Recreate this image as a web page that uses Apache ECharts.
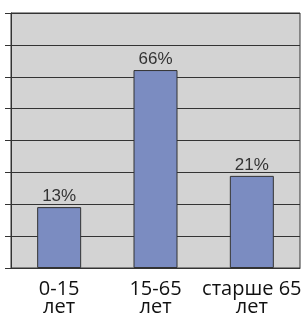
<!DOCTYPE html>
<html>
<head>
<meta charset="utf-8">
<script src="https://cdn.jsdelivr.net/npm/echarts@6/dist/echarts.min.js"></script>
<style>
  html, body { margin: 0; padding: 0; background: #fff; }
  #chart { width: 307px; height: 318px; }
</style>
</head>
<body>
<div id="chart"></div>
<script>
// возрастные группы
var categories = ['0-15\nлет', '15-65\nлет', 'старше 65\nлет'];
// высота столбцов, как нарисовано (шкала без подписей)
var barHeights = [19.1, 62.1, 28.9];
var barLabels = ['13%', '66%', '21%'];

var myChart = echarts.init(document.getElementById('chart'));
var option = {
  animation: false,
  grid: {
    left: 11, right: 7, top: 13, bottom: 50,
    show: true,
    backgroundColor: '#d3d3d3',
    borderColor: '#333',
    borderWidth: 1
  },
  xAxis: {
    type: 'category',
    data: categories,
    axisLine: { lineStyle: { color: '#333' } },
    axisTick: { length: 5, lineStyle: { color: '#333' } },
    axisLabel: {
      color: '#111',
      fontFamily: 'Open Sans',
      fontSize: 20,
      lineHeight: 18,
      margin: 12,
      interval: 0
    }
  },
  yAxis: {
    type: 'value',
    min: 0,
    max: 80,
    interval: 10,
    axisLine: { show: true, lineStyle: { color: '#333' } },
    axisTick: { show: true, length: 6, lineStyle: { color: '#333' } },
    axisLabel: { show: false },
    splitLine: { lineStyle: { color: '#333' } }
  },
  series: [{
    type: 'bar',
    data: barHeights,
    barWidth: 44,
    itemStyle: { color: '#7b8cc1', borderColor: '#333', borderWidth: 1 },
    label: {
      show: true,
      position: 'top',
      distance: 2,
      color: '#333',
      fontFamily: 'Liberation Sans',
      fontSize: 17,
      formatter: function (p) { return barLabels[p.dataIndex]; }
    }
  }]
};
myChart.setOption(option);
</script>
</body>
</html>
